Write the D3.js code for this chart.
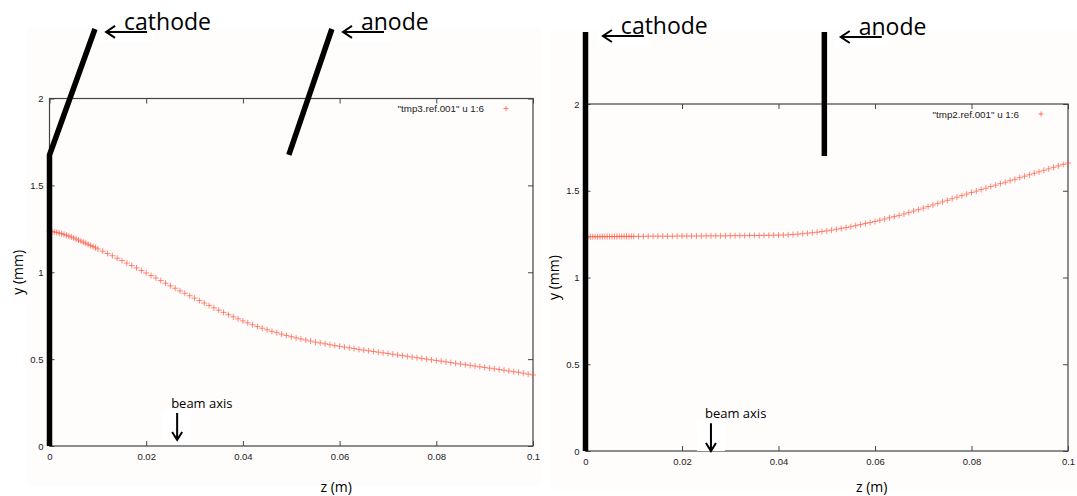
<!DOCTYPE html>
<html>
<head>
<meta charset="utf-8">
<script src="https://cdn.jsdelivr.net/npm/d3@7"></script>
<style>
  body { margin: 0; background: #fff; }
  svg { display: block; }
  .tick text, .legend { font-family: "Liberation Sans", Arial, sans-serif; fill: #222; }
  .note { font-family: "Open Sans", sans-serif; fill: #000; }
</style>
</head>
<body>
<div id="chart"></div>
<script>
const width = 1077, height = 496;

// z (m) of the plotted points, same steps for both runs
const zValues = [0, 0.0005, 0.001, 0.0015, 0.002, 0.0025, 0.003, 0.0035, 0.004, 0.0045,
  0.005, 0.0055, 0.006, 0.0065, 0.007, 0.0075, 0.008, 0.0085, 0.009, 0.0095, 0.01,
  0.011, 0.012, 0.013, 0.014, 0.015, 0.016, 0.017, 0.018, 0.019, 0.02,
  0.021, 0.022, 0.023, 0.024, 0.025, 0.026, 0.027, 0.028, 0.029, 0.03,
  0.031, 0.032, 0.033, 0.034, 0.035, 0.036, 0.037, 0.038, 0.039, 0.04,
  0.041, 0.042, 0.043, 0.044, 0.045, 0.046, 0.047, 0.048, 0.049, 0.05,
  0.051, 0.052, 0.053, 0.054, 0.055, 0.056, 0.057, 0.058, 0.059, 0.06,
  0.061, 0.062, 0.063, 0.064, 0.065, 0.066, 0.067, 0.068, 0.069, 0.07,
  0.071, 0.072, 0.073, 0.074, 0.075, 0.076, 0.077, 0.078, 0.079, 0.08,
  0.081, 0.082, 0.083, 0.084, 0.085, 0.086, 0.087, 0.088, 0.089, 0.09,
  0.091, 0.092, 0.093, 0.094, 0.095, 0.096, 0.097, 0.098, 0.099, 0.1];

// y (mm), tilted electrodes run (left plot)
const yTmp3 = [1.235, 1.234, 1.232, 1.229, 1.226, 1.222, 1.218, 1.213, 1.208, 1.203,
  1.197, 1.191, 1.185, 1.179, 1.173, 1.167, 1.161, 1.154, 1.148, 1.141, 1.134,
  1.121, 1.108, 1.095, 1.081, 1.067, 1.053, 1.039, 1.025, 1.010, 0.996,
  0.981, 0.967, 0.952, 0.937, 0.922, 0.908, 0.893, 0.879, 0.865, 0.851,
  0.837, 0.823, 0.809, 0.795, 0.782, 0.769, 0.756, 0.744, 0.732, 0.720,
  0.709, 0.698, 0.688, 0.678, 0.669, 0.660, 0.652, 0.644, 0.636, 0.629,
  0.622, 0.616, 0.610, 0.604, 0.598, 0.593, 0.588, 0.583, 0.578, 0.574,
  0.569, 0.565, 0.561, 0.556, 0.552, 0.548, 0.544, 0.540, 0.536, 0.532,
  0.528, 0.524, 0.520, 0.516, 0.512, 0.508, 0.504, 0.500, 0.496, 0.492,
  0.488, 0.484, 0.480, 0.476, 0.472, 0.468, 0.464, 0.460, 0.456, 0.452,
  0.448, 0.444, 0.440, 0.436, 0.432, 0.428, 0.424, 0.419, 0.414, 0.409];

// y (mm), straight electrodes run (right plot)
const yTmp2 = [1.234, 1.234, 1.235, 1.235, 1.235, 1.235, 1.235, 1.236, 1.236, 1.236,
  1.236, 1.236, 1.236, 1.236, 1.237, 1.237, 1.237, 1.237, 1.237, 1.237, 1.237,
  1.237, 1.237, 1.238, 1.238, 1.238, 1.238, 1.238, 1.238, 1.239, 1.239,
  1.239, 1.239, 1.239, 1.239, 1.240, 1.240, 1.240, 1.240, 1.240, 1.241,
  1.241, 1.241, 1.241, 1.242, 1.242, 1.242, 1.243, 1.243, 1.244, 1.244,
  1.245, 1.246, 1.248, 1.250, 1.252, 1.255, 1.258, 1.261, 1.265, 1.269,
  1.273, 1.278, 1.283, 1.288, 1.293, 1.299, 1.305, 1.311, 1.317, 1.323,
  1.330, 1.337, 1.344, 1.351, 1.358, 1.366, 1.374, 1.383, 1.391, 1.400,
  1.409, 1.418, 1.427, 1.436, 1.445, 1.454, 1.463, 1.472, 1.481, 1.490,
  1.498, 1.507, 1.515, 1.524, 1.532, 1.541, 1.549, 1.558, 1.566, 1.575,
  1.584, 1.592, 1.601, 1.609, 1.618, 1.626, 1.635, 1.643, 1.652, 1.660];

const xTickValues = [0, 0.02, 0.04, 0.06, 0.08, 0.1];
const yTickValues = [0, 0.5, 1, 1.5, 2];

const legendTmp3 = '"tmp3.ref.001" u 1:6';
const legendTmp2 = '"tmp2.ref.001" u 1:6';

// electrodes sketched over the plots, as (z, y) points
const cathodeTilted = [[0, 0], [0, 1.675], [0.0094, 2.40]];
const anodeTilted = [[0.0495, 1.675], [0.0584, 2.40]];
const cathodeStraight = [[0, 0], [0, 2.415]];
const anodeStraight = [[0.0495, 1.70], [0.0495, 2.415]];

const svg = d3.select("#chart")
  .append("svg")
  .attr("width", width)
  .attr("height", height);

const fmt = (d) => String(+d.toFixed(2));

function drawPanel(p) {
  const x = d3.scaleLinear().domain([0, 0.1]).range([p.left, p.right]);
  const y = d3.scaleLinear().domain([0, 2]).range([p.bottom, p.top]);

  // faint tint of the original screenshot
  svg.append("rect")
    .attr("x", p.bg[0]).attr("y", p.bg[1])
    .attr("width", p.bg[2] - p.bg[0]).attr("height", p.bg[3] - p.bg[1])
    .attr("fill", "#fffcfc");

  // ticks on all four sides, pointing in
  svg.append("g")
    .attr("transform", `translate(0,${p.bottom})`)
    .call(d3.axisBottom(x).tickValues(xTickValues).tickSize(-5).tickPadding(7).tickFormat(fmt));
  svg.append("g")
    .attr("transform", `translate(0,${p.top})`)
    .call(d3.axisTop(x).tickValues(xTickValues).tickSize(-5).tickFormat(""));
  svg.append("g")
    .attr("transform", `translate(${p.left},0)`)
    .call(d3.axisLeft(y).tickValues(yTickValues).tickSize(-5).tickPadding(6).tickFormat(fmt));
  svg.append("g")
    .attr("transform", `translate(${p.right},0)`)
    .call(d3.axisRight(y).tickValues(yTickValues).tickSize(-5).tickFormat(""));
  svg.selectAll(".domain").remove();
  svg.selectAll(".tick line").attr("stroke", "#444");
  svg.selectAll(".tick text").attr("font-size", "9.5px");

  // plot frame
  svg.append("rect")
    .attr("x", p.left).attr("y", p.top)
    .attr("width", p.right - p.left).attr("height", p.bottom - p.top)
    .attr("fill", "none").attr("stroke", "#444").attr("stroke-width", 1.2);

  // data points as gnuplot style crosses
  const pts = zValues.map((z, i) => ({ z: z, v: p.values[i] }));
  svg.append("g")
    .selectAll("path")
    .data(pts)
    .enter()
    .append("path")
      .attr("d", "M-3,0H3M0,-3V3")
      .attr("transform", (d) => `translate(${x(d.z)},${y(d.v)})`)
      .attr("stroke", "#ff5a45")
      .attr("stroke-opacity", 0.7)
      .attr("stroke-width", 1);

  // legend
  svg.append("text")
    .attr("class", "legend")
    .attr("x", p.right - 49).attr("y", p.top + 10)
    .attr("text-anchor", "end").attr("dominant-baseline", "central")
    .attr("font-size", "9.8px")
    .text(p.legend);
  svg.append("path")
    .attr("d", "M-2.5,0H2.5M0,-2.5V2.5")
    .attr("transform", `translate(${p.right - 27},${p.top + 10})`)
    .attr("stroke", "#ff7a66").attr("stroke-width", 1);

  // axis titles
  svg.append("text")
    .attr("class", "note")
    .attr("transform", `translate(${p.left - 32},${(p.top + p.bottom) / 2}) rotate(-90)`)
    .attr("text-anchor", "middle").attr("dominant-baseline", "central")
    .attr("font-size", "14px")
    .text("y (mm)");
  svg.append("text")
    .attr("class", "note")
    .attr("x", (p.left + p.right) / 2 + 45).attr("y", 486)
    .attr("text-anchor", "middle").attr("dominant-baseline", "central")
    .attr("font-size", "14px")
    .text("z (m)");

  // sketched electrodes
  const line = d3.line().x((d) => x(d[0])).y((d) => y(d[1]));
  [p.cathode, p.anode].forEach((e) => {
    svg.append("path")
      .attr("d", line(e))
      .attr("fill", "none")
      .attr("stroke", "#000")
      .attr("stroke-width", 5.5)
      .attr("stroke-linejoin", "round");
  });

  // "<- cathode" and "<- anode" labels
  p.labels.forEach((l) => {
    const ax = x(l.z), ay = y(l.v);
    svg.append("rect")
      .attr("x", ax - 6).attr("y", ay - 6)
      .attr("width", 54).attr("height", 16)
      .attr("fill", "#fff");
    svg.append("path")
      .attr("d", `M${ax + 41},${ay}H${ax}M${ax + 9},${ay - 6}L${ax},${ay}L${ax + 9},${ay + 6}`)
      .attr("fill", "none").attr("stroke", "#000").attr("stroke-width", 2);
    svg.append("text")
      .attr("class", "note")
      .attr("x", ax + 18).attr("y", ay - 2)
      .attr("font-size", "23px")
      .text(l.text);
  });

  // beam axis pointer
  const bx = x(p.beamZ), by0 = y(p.beamY[0]), by1 = y(p.beamY[1]);
  svg.append("rect")
    .attr("x", bx - 14).attr("y", by0 - 3)
    .attr("width", 28).attr("height", by1 - by0 + 3)
    .attr("fill", "#fff");
  svg.append("path")
    .attr("d", `M${bx},${by0}V${by1}M${bx - 5},${by1 - 8}L${bx},${by1}L${bx + 5},${by1 - 8}`)
    .attr("fill", "none").attr("stroke", "#000").attr("stroke-width", 2);
  svg.append("text")
    .attr("class", "note")
    .attr("x", bx - 6).attr("y", by0 - 10)
    .attr("dominant-baseline", "central")
    .attr("font-size", "13px")
    .text("beam axis");
}

drawPanel({
  left: 49.5, right: 533, top: 98.5, bottom: 446,
  bg: [27, 28, 541, 486],
  values: yTmp3, legend: legendTmp3,
  cathode: cathodeTilted, anode: anodeTilted,
  labels: [{ text: "cathode", z: 0.0117, v: 2.383 }, { text: "anode", z: 0.0607, v: 2.383 }],
  beamZ: 0.0264, beamY: [0.19, 0.035]
});

drawPanel({
  left: 585.5, right: 1068, top: 104, bottom: 451,
  bg: [550, 30, 1077, 490],
  values: yTmp2, legend: legendTmp2,
  cathode: cathodeStraight, anode: anodeStraight,
  labels: [{ text: "cathode", z: 0.0036, v: 2.392 }, { text: "anode", z: 0.0529, v: 2.386 }],
  beamZ: 0.026, beamY: [0.16, 0.0]
});
</script>
</body>
</html>
